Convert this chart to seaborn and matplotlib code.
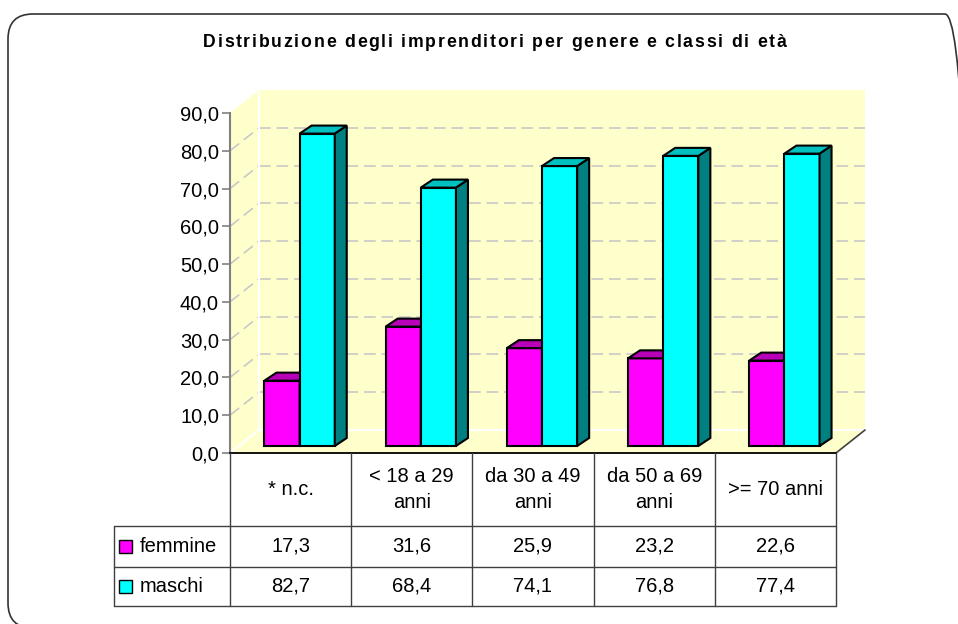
import numpy as np
import pandas as pd
import seaborn as sns
import matplotlib.pyplot as plt
import matplotlib.transforms as mtransforms
from matplotlib.patches import Polygon, Rectangle, FancyBboxPatch
from matplotlib.lines import Line2D
from matplotlib.font_manager import FontProperties

# Dati del grafico
titolo = "Distribuzione degli imprenditori per genere e classi di età"
classi = ["* n.c.", "< 18 a 29\nanni", "da 30 a 49\nanni", "da 50 a 69\nanni", ">= 70 anni"]
generi = ["femmine", "maschi"]
femmine = [17.3, 31.6, 25.9, 23.2, 22.6]
maschi = [82.7, 68.4, 74.1, 76.8, 77.4]
y_ticks = np.arange(0, 91, 10)

colori = {"femmine": "#FF00FF", "maschi": "#00FFFF"}
colori_top = {"femmine": "#B800B8", "maschi": "#00C0C0"}
colori_lato = {"femmine": "#800080", "maschi": "#008080"}

sns.set_style("white")
plt.rcParams['font.family'] = ['Liberation Sans', 'DejaVu Sans']
plt.rcParams['text.color'] = 'black'

W, H = 958, 624
fig = plt.figure(figsize=(W / 100, H / 100), dpi=100)


def fx(px):
    return px / W


def fy(py):
    return 1 - py / H


# area del grafico (piano frontale)
ax = fig.add_axes([fx(230), fy(453), fx(836) - fx(230), fy(113) - fy(453)])
ax.patch.set_visible(False)

df = pd.DataFrame({
    "classe": classi * 2,
    "genere": ["femmine"] * len(classi) + ["maschi"] * len(classi),
    "valore": femmine + maschi,
})

sns.barplot(data=df, x="classe", y="valore", hue="genere", order=classi,
            hue_order=generi, palette=colori, width=0.58, saturation=1,
            edgecolor="black", linewidth=1.5, legend=False, ax=ax)
barre = list(ax.patches)

ax.set_xlim(-0.5, len(classi) - 0.5)
ax.set_ylim(0, 90)

# pixel per unita' (per l'effetto 3D)
ppx = (836 - 230) / len(classi)
ppy = (453 - 113) / 90.0
wdx, wdy = 29 / ppx, 23 / ppy      # profondita' pareti
bdx, bdy = 12 / ppx, 8 / ppy       # profondita' barre
x_lo, x_hi = -0.5, len(classi) - 0.5

# pareti e pavimento
giallo = "#FFFFCC"
ax.add_patch(Polygon([(x_lo + wdx, wdy), (x_hi + wdx, wdy), (x_hi + wdx, 90 + wdy), (x_lo + wdx, 90 + wdy)],
                     fc=giallo, ec="none", zorder=0.5, clip_on=False))
ax.add_patch(Polygon([(x_lo, 0), (x_lo + wdx, wdy), (x_lo + wdx, 90 + wdy), (x_lo, 90)],
                     fc=giallo, ec="none", zorder=0.5, clip_on=False))
ax.add_patch(Polygon([(x_lo, 0), (x_hi, 0), (x_hi + wdx, wdy), (x_lo + wdx, wdy)],
                     fc=giallo, ec="none", zorder=0.5, clip_on=False))

# griglia tratteggiata
for v in y_ticks[1:-1]:
    ax.plot([x_lo + wdx, x_hi + wdx], [v + wdy, v + wdy], color="#C8C8C8", lw=1.2,
            ls=(0, (7, 3.5)), zorder=0.6, clip_on=False)
    ax.plot([x_lo, x_lo + wdx], [v, v + wdy], color="#C8C8C8", lw=1.2,
            ls=(0, (7, 3.5)), zorder=0.6, clip_on=False)

# bordi bianchi delle pareti
ax.plot([x_lo + wdx, x_hi + wdx], [wdy, wdy], color="white", lw=1.5, zorder=0.7, clip_on=False)
ax.plot([x_lo + wdx, x_lo + wdx], [wdy, 90 + wdy], color="white", lw=1.5, zorder=0.7, clip_on=False)
ax.plot([x_lo, x_lo + wdx], [0, wdy], color="white", lw=1.5, zorder=0.7, clip_on=False)
ax.plot([x_hi, x_hi + wdx], [0, wdy], color="#404040", lw=1.2, zorder=0.7, clip_on=False)

# barre 3D
bar_tr = mtransforms.offset_copy(ax.transData, fig=fig, x=9, y=7, units="dots")
for i, p in enumerate(barre):
    g = generi[i // len(classi)]
    z = 3 if g == "femmine" else 4
    x0, w, h = p.get_x(), p.get_width(), p.get_height()
    p.set_transform(bar_tr)
    p.set_zorder(z)
    p.set_clip_on(False)
    lato = Polygon([(x0 + w, 0), (x0 + w + bdx, bdy), (x0 + w + bdx, h + bdy), (x0 + w, h)],
                   fc=colori_lato[g], ec="black", lw=1.5, transform=bar_tr, zorder=z, clip_on=False)
    top = Polygon([(x0, h), (x0 + w, h), (x0 + w + bdx, h + bdy), (x0 + bdx, h + bdy)],
                  fc=colori_top[g], ec="black", lw=1.5, transform=bar_tr, zorder=z, clip_on=False)
    ax.add_patch(lato)
    ax.add_patch(top)

# assi
for s in ["top", "right"]:
    ax.spines[s].set_visible(False)
ax.spines["left"].set_color("#808080")
ax.spines["left"].set_linewidth(1.5)
ax.spines["bottom"].set_color("black")
ax.spines["bottom"].set_linewidth(1.3)
ax.set_yticks(y_ticks)
ax.set_yticklabels([f"{v:.1f}".replace(".", ",") for v in y_ticks])
ax.tick_params(axis="y", length=6, width=1.2, color="#808080", labelcolor="black",
               labelsize=14.5, pad=2, left=True)
ax.set_xticks([])
ax.set_xlabel("")
ax.set_ylabel("")

# tabella dati sotto il grafico
col_tr = mtransforms.blended_transform_factory(ax.transData, fig.transFigure)
c_linea = "#404040"
righe = [453, 526, 567, 606]
for k in range(len(classi) + 1):
    fig.add_artist(Line2D([k - 0.5, k - 0.5], [fy(righe[0]), fy(righe[-1])],
                          color=c_linea, lw=1, transform=col_tr))
x_sx = fx(114)
x_dx = ax.get_position().x1
for r in righe[1:]:
    fig.add_artist(Line2D([x_sx, x_dx], [fy(r), fy(r)], color=c_linea, lw=1))
fig.add_artist(Line2D([x_sx, x_sx], [fy(righe[1]), fy(righe[-1])], color=c_linea, lw=1))

for k, c in enumerate(classi):
    fig.text(k, fy((righe[0] + righe[1]) / 2), c, transform=col_tr, ha="center", va="center",
             fontsize=14.5, linespacing=1.4)

valori = {"femmine": femmine, "maschi": maschi}
for j, g in enumerate(generi):
    yc = fy((righe[j + 1] + righe[j + 2]) / 2)
    for k, v in enumerate(valori[g]):
        fig.text(k, yc, f"{v:.1f}".replace(".", ","), transform=col_tr, ha="center",
                 va="center", fontsize=14.5)
    fig.add_artist(Rectangle((fx(119), yc - 6.5 / H), 13 / W, 13 / H, fc=colori[g],
                             ec="black", lw=1))
    fig.text(fx(140), yc, g, ha="left", va="center", fontsize=14.5)

# titolo con spaziatura tra le lettere (come in Excel)
fp = FontProperties(family=['Liberation Sans', 'DejaVu Sans'], weight="bold", size=12.7)
renderer = fig.canvas.get_renderer()


def larghezza(s):
    return renderer.get_text_width_height_descent(s, fp, ismath=False)[0]


w_ref = larghezza("l")
pos = [larghezza(titolo[:i] + "l") - w_ref if i > 0 else 0.0 for i in range(len(titolo))]
tot = larghezza(titolo)
x_inizio, x_fine = 203, 786
spazio = (x_fine - x_inizio - tot) / (len(titolo) - 1)
for i, ch in enumerate(titolo):
    if ch == " ":
        continue
    fig.text(fx(x_inizio + pos[i] + i * spazio), fy(47.3), ch, ha="left", va="baseline",
             fontproperties=fp)

# cornice arrotondata
fig.add_artist(FancyBboxPatch((8, H - 628), 962, 614, boxstyle="round,pad=0,rounding_size=25",
                              fc="none", ec="#333333", lw=1.2,
                              transform=mtransforms.IdentityTransform()))

fig.savefig("out.png", dpi=100)
